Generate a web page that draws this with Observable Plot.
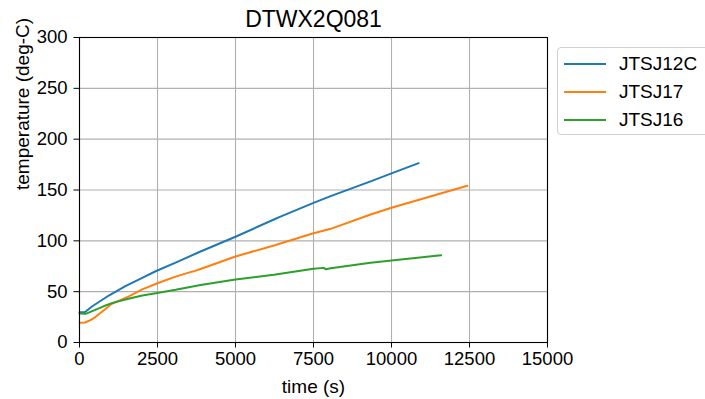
<!DOCTYPE html>
<html>
<head>
<meta charset="utf-8">
<script src="https://cdn.jsdelivr.net/npm/d3@7"></script>
<script src="https://cdn.jsdelivr.net/npm/@observablehq/plot@0.6"></script>
<style>
  html, body { margin: 0; padding: 0; background: #fff; overflow: hidden; }
  #wrap { position: relative; width: 705px; height: 399px; }
  #legend {
    position: absolute; left: 557px; top: 47px; width: 170px; height: 88px;
    border: 1px solid #d0d0d0; border-radius: 4px; background: #fff;
    font-family: 'Liberation Sans', Arial, sans-serif; font-size: 19px; color: #000;
    box-sizing: border-box;
  }
  .row { position: absolute; left: 0; height: 24px; }
  .row .sw { position: absolute; left: 6px; width: 42px; height: 0; border-top: 2px solid; top: 11px; }
  .row .lb { position: absolute; left: 61px; top: 1px; line-height: 22px; white-space: nowrap; }
</style>
</head>
<body>
<div id="wrap"><div id="legend"></div></div>
<script>
// Thermocouple readings for test DTWX2Q081
const title = "DTWX2Q081";
const seriesNames = ["JTSJ12C", "JTSJ17", "JTSJ16"];
const seriesColors = ["#1f77b4", "#ff7f0e", "#2ca02c"];

const timeJTSJ12C = [0, 180, 400, 940, 1470, 2010, 2440, 3080, 3880, 5000, 6230, 6440, 7500, 8050, 9330, 10000, 10870];
const tempJTSJ12C = [29.8, 30, 35.4, 46.2, 55.4, 63.6, 70.1, 78.6, 89.5, 104, 121, 123.8, 137.4, 144, 158.5, 166.3, 176.4];

const timeJTSJ17 = [0, 180, 350, 500, 770, 1036, 1570, 2010, 2540, 3080, 3550, 3700, 3880, 5000, 6230, 7500, 7750, 8050, 9330, 10000, 12430];
const tempJTSJ17 = [19.5, 19.7, 22, 24.8, 31.5, 38.1, 45.2, 52.3, 58.8, 64.8, 69.2, 70.4, 72.3, 84.6, 95.4, 107.5, 109.5, 111.8, 125.9, 132.5, 154.1];

const timeJTSJ16 = [0, 200, 500, 770, 1036, 1570, 2010, 2540, 3080, 3880, 5000, 6230, 7080, 7500, 7830, 7900, 8050, 9330, 10000, 11590];
const tempJTSJ16 = [28.5, 28.2, 32.1, 35.6, 38.7, 43, 46.3, 49, 51.8, 56.6, 61.9, 66.6, 70.5, 72.6, 73.4, 72, 73, 78.4, 80.7, 85.9];

const xTicks = [0, 2500, 5000, 7500, 10000, 12500, 15000];
const yTicks = [0, 50, 100, 150, 200, 250, 300];
const xLabel = "time (s)";
const yLabel = "temperature (deg-C)";

const seriesData = [
  [timeJTSJ12C, tempJTSJ12C],
  [timeJTSJ17, tempJTSJ17],
  [timeJTSJ16, tempJTSJ16]
];
const rows = seriesData.flatMap(([ts, vs], i) =>
  ts.map((t, j) => ({series: seriesNames[i], t, v: vs[j]})));

const fontFamily = "'Liberation Sans', Arial, sans-serif";

const chart = Plot.plot({
  width: 705,
  height: 399,
  marginLeft: 79,
  marginRight: 158,
  marginTop: 37,
  marginBottom: 57,
  style: {fontFamily, fontSize: "18.5px", color: "#000", background: "transparent", overflow: "visible"},
  x: {domain: [0, 15000], label: null},
  y: {domain: [0, 300], label: null},
  color: {domain: seriesNames, range: seriesColors},
  marks: [
    Plot.gridX(xTicks, {stroke: "#b0b0b0", strokeOpacity: 1, strokeWidth: 1.1}),
    Plot.gridY(yTicks, {stroke: "#b0b0b0", strokeOpacity: 1, strokeWidth: 1.1}),
    Plot.line(rows, {x: "t", y: "v", z: "series", stroke: "series", strokeWidth: 2, curve: "linear"}),
    Plot.frame({stroke: "#000", strokeWidth: 1.1}),
    Plot.axisX(xTicks, {tickSize: 5.5, tickPadding: 4, tickFormat: d => String(d), label: null, fontSize: 18.5}),
    Plot.axisY(yTicks, {tickSize: 5.5, tickPadding: 6.5, tickFormat: d => String(d), label: null, fontSize: 18.5}),
    Plot.text([title], {frameAnchor: "top", dy: -18, lineAnchor: "middle", fontSize: 23, fill: "#000"}),
    Plot.text([xLabel], {frameAnchor: "bottom", dy: 50, lineAnchor: "bottom", fontSize: 19, fill: "#000"}),
    Plot.text([yLabel], {frameAnchor: "left", dx: -57, rotate: -90, lineAnchor: "middle", fontSize: 19, fill: "#000"})
  ]
});

const wrap = document.getElementById("wrap");
wrap.insertBefore(chart, wrap.firstChild);

// Legend box
const legend = document.getElementById("legend");
seriesNames.forEach((name, i) => {
  const row = document.createElement("div");
  row.className = "row";
  row.style.top = (4 + i * 28) + "px";
  row.innerHTML = `<span class="sw" style="border-color:${seriesColors[i]}"></span><span class="lb">${name}</span>`;
  legend.appendChild(row);
});
</script>
</body>
</html>
